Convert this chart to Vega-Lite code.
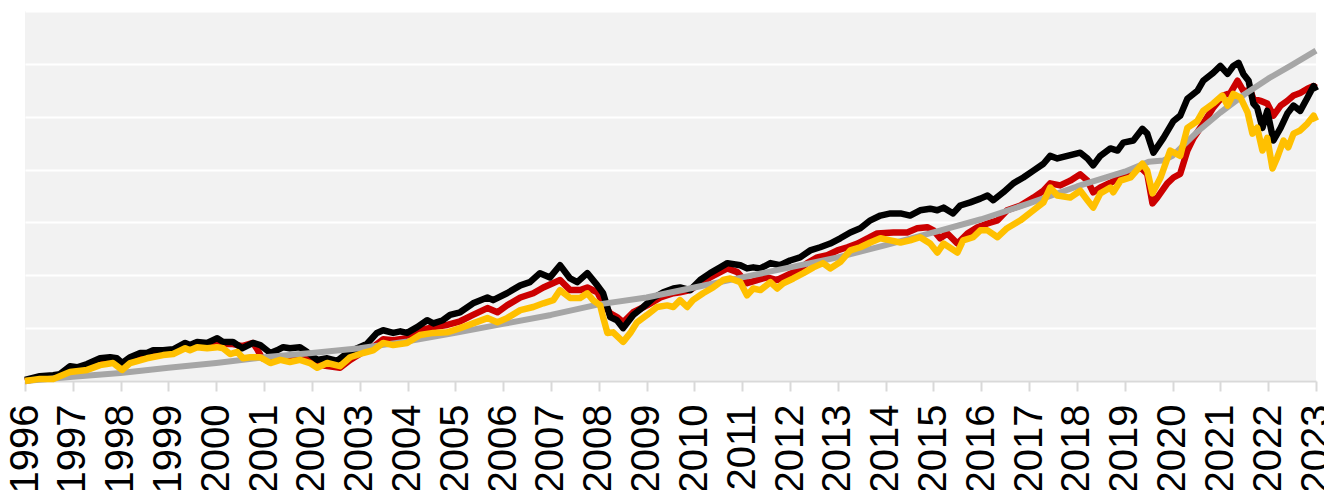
{
"$schema": "https://vega.github.io/schema/vega-lite/v6.json",
"width": 1291, "height": 370,
"autosize": {"type": "none"},
"padding": {"left": 25, "top": 11, "right": 8, "bottom": 109},
"background": "white",
"config": {"view": {"fill": "#f2f2f2", "stroke": null}},
"data": {"values": [
{"s":"gray","t":1996,"v":0},{"s":"gray","t":1997,"v":0.08},{"s":"gray","t":1998,"v":0.15},{"s":"gray","t":1999,"v":0.25},{"s":"gray","t":2000,"v":0.34},{"s":"gray","t":2001,"v":0.45},{"s":"gray","t":2002,"v":0.53},{"s":"gray","t":2003,"v":0.62},{"s":"gray","t":2004,"v":0.75},{"s":"gray","t":2005,"v":0.91},{"s":"gray","t":2006,"v":1.08},{"s":"gray","t":2007,"v":1.25},{"s":"gray","t":2008,"v":1.45},{"s":"gray","t":2009,"v":1.58},{"s":"gray","t":2010,"v":1.77},{"s":"gray","t":2011,"v":1.96},{"s":"gray","t":2012,"v":2.15},{"s":"gray","t":2013,"v":2.34},{"s":"gray","t":2014,"v":2.57},{"s":"gray","t":2015,"v":2.81},{"s":"gray","t":2016,"v":3.06},{"s":"gray","t":2017,"v":3.36},{"s":"gray","t":2018,"v":3.68},{"s":"gray","t":2019,"v":3.96},{"s":"gray","t":2019.5,"v":4.15},{"s":"gray","t":2019.8,"v":4.17},{"s":"gray","t":2020,"v":4.26},{"s":"gray","t":2020.5,"v":4.70},{"s":"gray","t":2021,"v":5.08},{"s":"gray","t":2021.5,"v":5.42},{"s":"gray","t":2022,"v":5.72},{"s":"gray","t":2022.5,"v":5.98},{"s":"gray","t":2023,"v":6.25},

{"s":"black","t":1996.00,"v":0.02},{"s":"black","t":1996.31,"v":0.09},{"s":"black","t":1996.59,"v":0.11},{"s":"black","t":1996.73,"v":0.13},{"s":"black","t":1996.94,"v":0.28},{"s":"black","t":1997.09,"v":0.26},{"s":"black","t":1997.30,"v":0.32},{"s":"black","t":1997.57,"v":0.43},{"s":"black","t":1997.78,"v":0.45},{"s":"black","t":1997.92,"v":0.43},{"s":"black","t":1998.03,"v":0.34},{"s":"black","t":1998.20,"v":0.45},{"s":"black","t":1998.41,"v":0.53},{"s":"black","t":1998.55,"v":0.53},{"s":"black","t":1998.68,"v":0.58},{"s":"black","t":1998.89,"v":0.58},{"s":"black","t":1999.10,"v":0.60},{"s":"black","t":1999.35,"v":0.72},{"s":"black","t":1999.45,"v":0.68},{"s":"black","t":1999.60,"v":0.74},{"s":"black","t":1999.81,"v":0.72},{"s":"black","t":2000.02,"v":0.81},{"s":"black","t":2000.14,"v":0.74},{"s":"black","t":2000.35,"v":0.74},{"s":"black","t":2000.54,"v":0.62},{"s":"black","t":2000.77,"v":0.72},{"s":"black","t":2000.92,"v":0.68},{"s":"black","t":2001.13,"v":0.53},{"s":"black","t":2001.27,"v":0.58},{"s":"black","t":2001.40,"v":0.64},{"s":"black","t":2001.54,"v":0.62},{"s":"black","t":2001.75,"v":0.64},{"s":"black","t":2001.90,"v":0.55},{"s":"black","t":2002.11,"v":0.40},{"s":"black","t":2002.32,"v":0.43},{"s":"black","t":2002.53,"v":0.38},{"s":"black","t":2002.74,"v":0.53},{"s":"black","t":2002.95,"v":0.62},{"s":"black","t":2003.15,"v":0.70},{"s":"black","t":2003.36,"v":0.91},{"s":"black","t":2003.49,"v":0.96},{"s":"black","t":2003.70,"v":0.91},{"s":"black","t":2003.85,"v":0.94},{"s":"black","t":2003.99,"v":0.91},{"s":"black","t":2004.20,"v":1.02},{"s":"black","t":2004.41,"v":1.15},{"s":"black","t":2004.54,"v":1.09},{"s":"black","t":2004.74,"v":1.15},{"s":"black","t":2004.89,"v":1.25},{"s":"black","t":2005.10,"v":1.30},{"s":"black","t":2005.37,"v":1.47},{"s":"black","t":2005.67,"v":1.58},{"s":"black","t":2005.79,"v":1.53},{"s":"black","t":2006.08,"v":1.66},{"s":"black","t":2006.36,"v":1.81},{"s":"black","t":2006.56,"v":1.87},{"s":"black","t":2006.77,"v":2.04},{"s":"black","t":2006.98,"v":1.96},{"s":"black","t":2007.19,"v":2.19},{"s":"black","t":2007.40,"v":1.94},{"s":"black","t":2007.55,"v":1.87},{"s":"black","t":2007.76,"v":2.04},{"s":"black","t":2007.97,"v":1.81},{"s":"black","t":2008.09,"v":1.66},{"s":"black","t":2008.24,"v":1.21},{"s":"black","t":2008.38,"v":1.15},{"s":"black","t":2008.51,"v":1.00},{"s":"black","t":2008.72,"v":1.25},{"s":"black","t":2008.93,"v":1.40},{"s":"black","t":2009.14,"v":1.57},{"s":"black","t":2009.35,"v":1.68},{"s":"black","t":2009.56,"v":1.75},{"s":"black","t":2009.70,"v":1.77},{"s":"black","t":2009.91,"v":1.72},{"s":"black","t":2010.12,"v":1.91},{"s":"black","t":2010.33,"v":2.04},{"s":"black","t":2010.54,"v":2.15},{"s":"black","t":2010.69,"v":2.23},{"s":"black","t":2010.96,"v":2.19},{"s":"black","t":2011.10,"v":2.13},{"s":"black","t":2011.23,"v":2.15},{"s":"black","t":2011.38,"v":2.13},{"s":"black","t":2011.59,"v":2.23},{"s":"black","t":2011.79,"v":2.19},{"s":"black","t":2012.00,"v":2.28},{"s":"black","t":2012.21,"v":2.34},{"s":"black","t":2012.42,"v":2.47},{"s":"black","t":2012.63,"v":2.53},{"s":"black","t":2012.84,"v":2.60},{"s":"black","t":2013.05,"v":2.70},{"s":"black","t":2013.26,"v":2.81},{"s":"black","t":2013.47,"v":2.89},{"s":"black","t":2013.68,"v":3.04},{"s":"black","t":2013.89,"v":3.13},{"s":"black","t":2014.10,"v":3.17},{"s":"black","t":2014.31,"v":3.17},{"s":"black","t":2014.51,"v":3.13},{"s":"black","t":2014.72,"v":3.23},{"s":"black","t":2014.93,"v":3.26},{"s":"black","t":2015.08,"v":3.23},{"s":"black","t":2015.21,"v":3.28},{"s":"black","t":2015.41,"v":3.17},{"s":"black","t":2015.56,"v":3.32},{"s":"black","t":2015.77,"v":3.38},{"s":"black","t":2015.98,"v":3.45},{"s":"black","t":2016.13,"v":3.51},{"s":"black","t":2016.25,"v":3.42},{"s":"black","t":2016.46,"v":3.57},{"s":"black","t":2016.67,"v":3.74},{"s":"black","t":2016.88,"v":3.85},{"s":"black","t":2017.09,"v":3.98},{"s":"black","t":2017.30,"v":4.11},{"s":"black","t":2017.44,"v":4.26},{"s":"black","t":2017.59,"v":4.21},{"s":"black","t":2017.80,"v":4.26},{"s":"black","t":2018.07,"v":4.32},{"s":"black","t":2018.22,"v":4.21},{"s":"black","t":2018.34,"v":4.08},{"s":"black","t":2018.49,"v":4.26},{"s":"black","t":2018.70,"v":4.40},{"s":"black","t":2018.85,"v":4.36},{"s":"black","t":2018.97,"v":4.51},{"s":"black","t":2019.18,"v":4.55},{"s":"black","t":2019.37,"v":4.77},{"s":"black","t":2019.47,"v":4.68},{"s":"black","t":2019.60,"v":4.32},{"s":"black","t":2019.81,"v":4.60},{"s":"black","t":2020.02,"v":4.92},{"s":"black","t":2020.16,"v":5.02},{"s":"black","t":2020.31,"v":5.34},{"s":"black","t":2020.52,"v":5.49},{"s":"black","t":2020.64,"v":5.68},{"s":"black","t":2020.85,"v":5.83},{"s":"black","t":2021.00,"v":5.96},{"s":"black","t":2021.15,"v":5.81},{"s":"black","t":2021.27,"v":5.96},{"s":"black","t":2021.38,"v":6.02},{"s":"black","t":2021.48,"v":5.81},{"s":"black","t":2021.59,"v":5.68},{"s":"black","t":2021.69,"v":5.25},{"s":"black","t":2021.77,"v":5.17},{"s":"black","t":2021.88,"v":4.79},{"s":"black","t":2021.98,"v":5.11},{"s":"black","t":2022.11,"v":4.55},{"s":"black","t":2022.26,"v":4.79},{"s":"black","t":2022.40,"v":5.06},{"s":"black","t":2022.53,"v":5.21},{"s":"black","t":2022.67,"v":5.11},{"s":"black","t":2022.82,"v":5.36},{"s":"black","t":2022.95,"v":5.58},{"s":"black","t":2023.00,"v":5.49},

{"s":"red","t":1996.00,"v":0.00},{"s":"red","t":1996.31,"v":0.06},{"s":"red","t":1996.59,"v":0.08},{"s":"red","t":1996.73,"v":0.09},{"s":"red","t":1996.94,"v":0.25},{"s":"red","t":1997.09,"v":0.23},{"s":"red","t":1997.30,"v":0.28},{"s":"red","t":1997.57,"v":0.40},{"s":"red","t":1997.78,"v":0.42},{"s":"red","t":1997.92,"v":0.40},{"s":"red","t":1998.03,"v":0.30},{"s":"red","t":1998.20,"v":0.42},{"s":"red","t":1998.41,"v":0.49},{"s":"red","t":1998.55,"v":0.49},{"s":"red","t":1998.68,"v":0.55},{"s":"red","t":1998.89,"v":0.55},{"s":"red","t":1999.10,"v":0.57},{"s":"red","t":1999.35,"v":0.68},{"s":"red","t":1999.45,"v":0.64},{"s":"red","t":1999.60,"v":0.70},{"s":"red","t":1999.81,"v":0.68},{"s":"red","t":2000.02,"v":0.77},{"s":"red","t":2000.14,"v":0.70},{"s":"red","t":2000.35,"v":0.70},{"s":"red","t":2000.54,"v":0.66},{"s":"red","t":2000.77,"v":0.72},{"s":"red","t":2000.87,"v":0.58},{"s":"red","t":2000.96,"v":0.43},{"s":"red","t":2001.13,"v":0.43},{"s":"red","t":2001.54,"v":0.45},{"s":"red","t":2001.75,"v":0.45},{"s":"red","t":2001.96,"v":0.40},{"s":"red","t":2002.17,"v":0.30},{"s":"red","t":2002.59,"v":0.25},{"s":"red","t":2002.80,"v":0.40},{"s":"red","t":2003.07,"v":0.55},{"s":"red","t":2003.28,"v":0.64},{"s":"red","t":2003.49,"v":0.79},{"s":"red","t":2003.70,"v":0.77},{"s":"red","t":2003.99,"v":0.81},{"s":"red","t":2004.26,"v":0.96},{"s":"red","t":2004.54,"v":1.02},{"s":"red","t":2004.83,"v":1.06},{"s":"red","t":2005.10,"v":1.13},{"s":"red","t":2005.37,"v":1.25},{"s":"red","t":2005.67,"v":1.38},{"s":"red","t":2005.88,"v":1.30},{"s":"red","t":2006.08,"v":1.43},{"s":"red","t":2006.36,"v":1.58},{"s":"red","t":2006.63,"v":1.66},{"s":"red","t":2006.84,"v":1.77},{"s":"red","t":2007.19,"v":1.91},{"s":"red","t":2007.40,"v":1.72},{"s":"red","t":2007.61,"v":1.72},{"s":"red","t":2007.76,"v":1.77},{"s":"red","t":2007.97,"v":1.68},{"s":"red","t":2008.09,"v":1.47},{"s":"red","t":2008.24,"v":1.28},{"s":"red","t":2008.38,"v":1.21},{"s":"red","t":2008.51,"v":1.11},{"s":"red","t":2008.72,"v":1.30},{"s":"red","t":2009.01,"v":1.43},{"s":"red","t":2009.29,"v":1.58},{"s":"red","t":2009.56,"v":1.66},{"s":"red","t":2009.70,"v":1.68},{"s":"red","t":2009.91,"v":1.72},{"s":"red","t":2010.12,"v":1.85},{"s":"red","t":2010.33,"v":1.96},{"s":"red","t":2010.54,"v":2.06},{"s":"red","t":2010.69,"v":2.13},{"s":"red","t":2010.90,"v":2.06},{"s":"red","t":2011.10,"v":1.85},{"s":"red","t":2011.31,"v":1.91},{"s":"red","t":2011.52,"v":1.96},{"s":"red","t":2011.73,"v":1.91},{"s":"red","t":2011.94,"v":2.00},{"s":"red","t":2012.15,"v":2.09},{"s":"red","t":2012.36,"v":2.23},{"s":"red","t":2012.57,"v":2.34},{"s":"red","t":2012.78,"v":2.38},{"s":"red","t":2012.99,"v":2.47},{"s":"red","t":2013.20,"v":2.53},{"s":"red","t":2013.41,"v":2.60},{"s":"red","t":2013.62,"v":2.70},{"s":"red","t":2013.82,"v":2.79},{"s":"red","t":2014.16,"v":2.81},{"s":"red","t":2014.45,"v":2.81},{"s":"red","t":2014.66,"v":2.89},{"s":"red","t":2014.87,"v":2.91},{"s":"red","t":2015.00,"v":2.85},{"s":"red","t":2015.14,"v":2.70},{"s":"red","t":2015.29,"v":2.79},{"s":"red","t":2015.50,"v":2.60},{"s":"red","t":2015.71,"v":2.79},{"s":"red","t":2015.92,"v":2.91},{"s":"red","t":2016.13,"v":2.98},{"s":"red","t":2016.34,"v":3.04},{"s":"red","t":2016.54,"v":3.23},{"s":"red","t":2016.82,"v":3.32},{"s":"red","t":2017.09,"v":3.47},{"s":"red","t":2017.30,"v":3.60},{"s":"red","t":2017.44,"v":3.74},{"s":"red","t":2017.65,"v":3.70},{"s":"red","t":2017.86,"v":3.79},{"s":"red","t":2018.07,"v":3.91},{"s":"red","t":2018.22,"v":3.79},{"s":"red","t":2018.34,"v":3.57},{"s":"red","t":2018.49,"v":3.66},{"s":"red","t":2018.70,"v":3.75},{"s":"red","t":2018.91,"v":3.85},{"s":"red","t":2019.12,"v":3.92},{"s":"red","t":2019.33,"v":4.04},{"s":"red","t":2019.47,"v":3.92},{"s":"red","t":2019.58,"v":3.36},{"s":"red","t":2019.68,"v":3.47},{"s":"red","t":2019.89,"v":3.74},{"s":"red","t":2020.02,"v":3.85},{"s":"red","t":2020.16,"v":3.92},{"s":"red","t":2020.31,"v":4.36},{"s":"red","t":2020.44,"v":4.60},{"s":"red","t":2020.64,"v":4.87},{"s":"red","t":2020.85,"v":5.17},{"s":"red","t":2021.06,"v":5.40},{"s":"red","t":2021.21,"v":5.45},{"s":"red","t":2021.36,"v":5.68},{"s":"red","t":2021.48,"v":5.49},{"s":"red","t":2021.63,"v":5.49},{"s":"red","t":2021.69,"v":5.34},{"s":"red","t":2021.84,"v":5.30},{"s":"red","t":2021.98,"v":5.25},{"s":"red","t":2022.11,"v":5.02},{"s":"red","t":2022.26,"v":5.21},{"s":"red","t":2022.40,"v":5.30},{"s":"red","t":2022.53,"v":5.40},{"s":"red","t":2022.67,"v":5.45},{"s":"red","t":2022.82,"v":5.53},{"s":"red","t":2022.95,"v":5.58},{"s":"red","t":2023.00,"v":5.55},

{"s":"yellow","t":1996.00,"v":0.00},{"s":"yellow","t":1996.31,"v":0.04},{"s":"yellow","t":1996.59,"v":0.04},{"s":"yellow","t":1996.94,"v":0.17},{"s":"yellow","t":1997.30,"v":0.21},{"s":"yellow","t":1997.57,"v":0.30},{"s":"yellow","t":1997.84,"v":0.34},{"s":"yellow","t":1998.03,"v":0.21},{"s":"yellow","t":1998.20,"v":0.34},{"s":"yellow","t":1998.55,"v":0.43},{"s":"yellow","t":1998.89,"v":0.49},{"s":"yellow","t":1999.10,"v":0.51},{"s":"yellow","t":1999.35,"v":0.62},{"s":"yellow","t":1999.45,"v":0.58},{"s":"yellow","t":1999.60,"v":0.64},{"s":"yellow","t":1999.81,"v":0.62},{"s":"yellow","t":2000.02,"v":0.64},{"s":"yellow","t":2000.14,"v":0.62},{"s":"yellow","t":2000.29,"v":0.51},{"s":"yellow","t":2000.44,"v":0.55},{"s":"yellow","t":2000.56,"v":0.43},{"s":"yellow","t":2000.71,"v":0.45},{"s":"yellow","t":2000.92,"v":0.45},{"s":"yellow","t":2001.13,"v":0.34},{"s":"yellow","t":2001.34,"v":0.40},{"s":"yellow","t":2001.54,"v":0.36},{"s":"yellow","t":2001.75,"v":0.40},{"s":"yellow","t":2001.96,"v":0.34},{"s":"yellow","t":2002.11,"v":0.25},{"s":"yellow","t":2002.32,"v":0.34},{"s":"yellow","t":2002.59,"v":0.28},{"s":"yellow","t":2002.80,"v":0.45},{"s":"yellow","t":2003.07,"v":0.53},{"s":"yellow","t":2003.28,"v":0.58},{"s":"yellow","t":2003.49,"v":0.72},{"s":"yellow","t":2003.70,"v":0.68},{"s":"yellow","t":2003.99,"v":0.72},{"s":"yellow","t":2004.26,"v":0.87},{"s":"yellow","t":2004.54,"v":0.91},{"s":"yellow","t":2004.83,"v":0.92},{"s":"yellow","t":2005.10,"v":1.00},{"s":"yellow","t":2005.37,"v":1.09},{"s":"yellow","t":2005.67,"v":1.19},{"s":"yellow","t":2005.88,"v":1.11},{"s":"yellow","t":2006.08,"v":1.19},{"s":"yellow","t":2006.36,"v":1.34},{"s":"yellow","t":2006.63,"v":1.40},{"s":"yellow","t":2006.84,"v":1.47},{"s":"yellow","t":2007.05,"v":1.53},{"s":"yellow","t":2007.19,"v":1.72},{"s":"yellow","t":2007.40,"v":1.57},{"s":"yellow","t":2007.61,"v":1.57},{"s":"yellow","t":2007.76,"v":1.66},{"s":"yellow","t":2007.88,"v":1.53},{"s":"yellow","t":2008.03,"v":1.43},{"s":"yellow","t":2008.09,"v":1.21},{"s":"yellow","t":2008.18,"v":0.91},{"s":"yellow","t":2008.30,"v":0.92},{"s":"yellow","t":2008.51,"v":0.74},{"s":"yellow","t":2008.66,"v":0.91},{"s":"yellow","t":2008.80,"v":1.11},{"s":"yellow","t":2009.01,"v":1.25},{"s":"yellow","t":2009.22,"v":1.40},{"s":"yellow","t":2009.43,"v":1.43},{"s":"yellow","t":2009.56,"v":1.40},{"s":"yellow","t":2009.70,"v":1.53},{"s":"yellow","t":2009.85,"v":1.40},{"s":"yellow","t":2009.97,"v":1.53},{"s":"yellow","t":2010.18,"v":1.66},{"s":"yellow","t":2010.39,"v":1.77},{"s":"yellow","t":2010.60,"v":1.91},{"s":"yellow","t":2010.75,"v":1.94},{"s":"yellow","t":2010.96,"v":1.87},{"s":"yellow","t":2011.10,"v":1.62},{"s":"yellow","t":2011.23,"v":1.75},{"s":"yellow","t":2011.38,"v":1.72},{"s":"yellow","t":2011.59,"v":1.87},{"s":"yellow","t":2011.73,"v":1.75},{"s":"yellow","t":2011.86,"v":1.85},{"s":"yellow","t":2012.07,"v":1.94},{"s":"yellow","t":2012.28,"v":2.04},{"s":"yellow","t":2012.49,"v":2.15},{"s":"yellow","t":2012.69,"v":2.23},{"s":"yellow","t":2012.84,"v":2.13},{"s":"yellow","t":2013.05,"v":2.25},{"s":"yellow","t":2013.26,"v":2.47},{"s":"yellow","t":2013.47,"v":2.53},{"s":"yellow","t":2013.68,"v":2.62},{"s":"yellow","t":2013.89,"v":2.70},{"s":"yellow","t":2014.10,"v":2.66},{"s":"yellow","t":2014.31,"v":2.62},{"s":"yellow","t":2014.51,"v":2.66},{"s":"yellow","t":2014.72,"v":2.72},{"s":"yellow","t":2014.93,"v":2.60},{"s":"yellow","t":2015.08,"v":2.43},{"s":"yellow","t":2015.21,"v":2.60},{"s":"yellow","t":2015.50,"v":2.43},{"s":"yellow","t":2015.62,"v":2.66},{"s":"yellow","t":2015.83,"v":2.72},{"s":"yellow","t":2015.98,"v":2.85},{"s":"yellow","t":2016.13,"v":2.85},{"s":"yellow","t":2016.34,"v":2.72},{"s":"yellow","t":2016.54,"v":2.89},{"s":"yellow","t":2016.82,"v":3.04},{"s":"yellow","t":2017.09,"v":3.23},{"s":"yellow","t":2017.30,"v":3.38},{"s":"yellow","t":2017.44,"v":3.66},{"s":"yellow","t":2017.59,"v":3.51},{"s":"yellow","t":2017.86,"v":3.47},{"s":"yellow","t":2018.07,"v":3.60},{"s":"yellow","t":2018.22,"v":3.42},{"s":"yellow","t":2018.34,"v":3.28},{"s":"yellow","t":2018.49,"v":3.55},{"s":"yellow","t":2018.70,"v":3.66},{"s":"yellow","t":2018.76,"v":3.57},{"s":"yellow","t":2018.91,"v":3.79},{"s":"yellow","t":2019.12,"v":3.85},{"s":"yellow","t":2019.37,"v":4.11},{"s":"yellow","t":2019.47,"v":3.98},{"s":"yellow","t":2019.58,"v":3.55},{"s":"yellow","t":2019.75,"v":3.85},{"s":"yellow","t":2019.95,"v":4.36},{"s":"yellow","t":2020.16,"v":4.26},{"s":"yellow","t":2020.31,"v":4.79},{"s":"yellow","t":2020.52,"v":4.92},{"s":"yellow","t":2020.64,"v":5.11},{"s":"yellow","t":2020.85,"v":5.25},{"s":"yellow","t":2021.04,"v":5.40},{"s":"yellow","t":2021.15,"v":5.21},{"s":"yellow","t":2021.27,"v":5.43},{"s":"yellow","t":2021.42,"v":5.36},{"s":"yellow","t":2021.57,"v":5.08},{"s":"yellow","t":2021.67,"v":4.68},{"s":"yellow","t":2021.77,"v":4.79},{"s":"yellow","t":2021.88,"v":4.36},{"s":"yellow","t":2021.98,"v":4.60},{"s":"yellow","t":2022.09,"v":4.02},{"s":"yellow","t":2022.19,"v":4.23},{"s":"yellow","t":2022.32,"v":4.55},{"s":"yellow","t":2022.42,"v":4.42},{"s":"yellow","t":2022.53,"v":4.68},{"s":"yellow","t":2022.67,"v":4.74},{"s":"yellow","t":2022.82,"v":4.87},{"s":"yellow","t":2022.95,"v":5.02},{"s":"yellow","t":2023.00,"v":4.92}
]},
"encoding": {
  "x": {"field": "t", "type": "quantitative",
    "scale": {"domain": [1996, 2023], "nice": false, "zero": false},
    "axis": {"values": [1996,1997,1998,1999,2000,2001,2002,2003,2004,2005,2006,2007,2008,2009,2010,2011,2012,2013,2014,2015,2016,2017,2018,2019,2020,2021,2022,2023],
      "format": "d", "labelAngle": -90, "labelAlign": "right", "labelBaseline": "middle",
      "labelFontSize": 40, "labelFont": "Liberation Sans", "labelColor": "#000000",
      "labelPadding": 13, "labelOverlap": false, "labelFlush": false, "labelBound": false,
      "tickColor": "#d9d9d9", "tickSize": 10, "tickWidth": 2,
      "domainColor": "#d9d9d9", "domainWidth": 2, "grid": false, "title": null}},
  "y": {"field": "v", "type": "quantitative",
    "scale": {"domain": [0, 7], "nice": false},
    "axis": {"values": [0,1,2,3,4,5,6,7], "labels": false, "ticks": false, "domain": false,
      "grid": true, "gridColor": "#ffffff", "gridWidth": 2, "title": null}}
},
"layer": [
  {"transform": [{"filter": "datum.s === 'red'"}], "mark": {"type": "line", "color": "#cc0000", "strokeWidth": 6.5, "strokeJoin": "round"}},
  {"transform": [{"filter": "datum.s === 'black'"}], "mark": {"type": "line", "color": "#000000", "strokeWidth": 6.5, "strokeJoin": "round"}},
  {"transform": [{"filter": "datum.s === 'gray'"}], "mark": {"type": "line", "color": "#a6a6a6", "strokeWidth": 6, "strokeJoin": "round"}},
  {"transform": [{"filter": "datum.s === 'yellow'"}], "mark": {"type": "line", "color": "#ffc000", "strokeWidth": 6.5, "strokeJoin": "round"}}
]
}
